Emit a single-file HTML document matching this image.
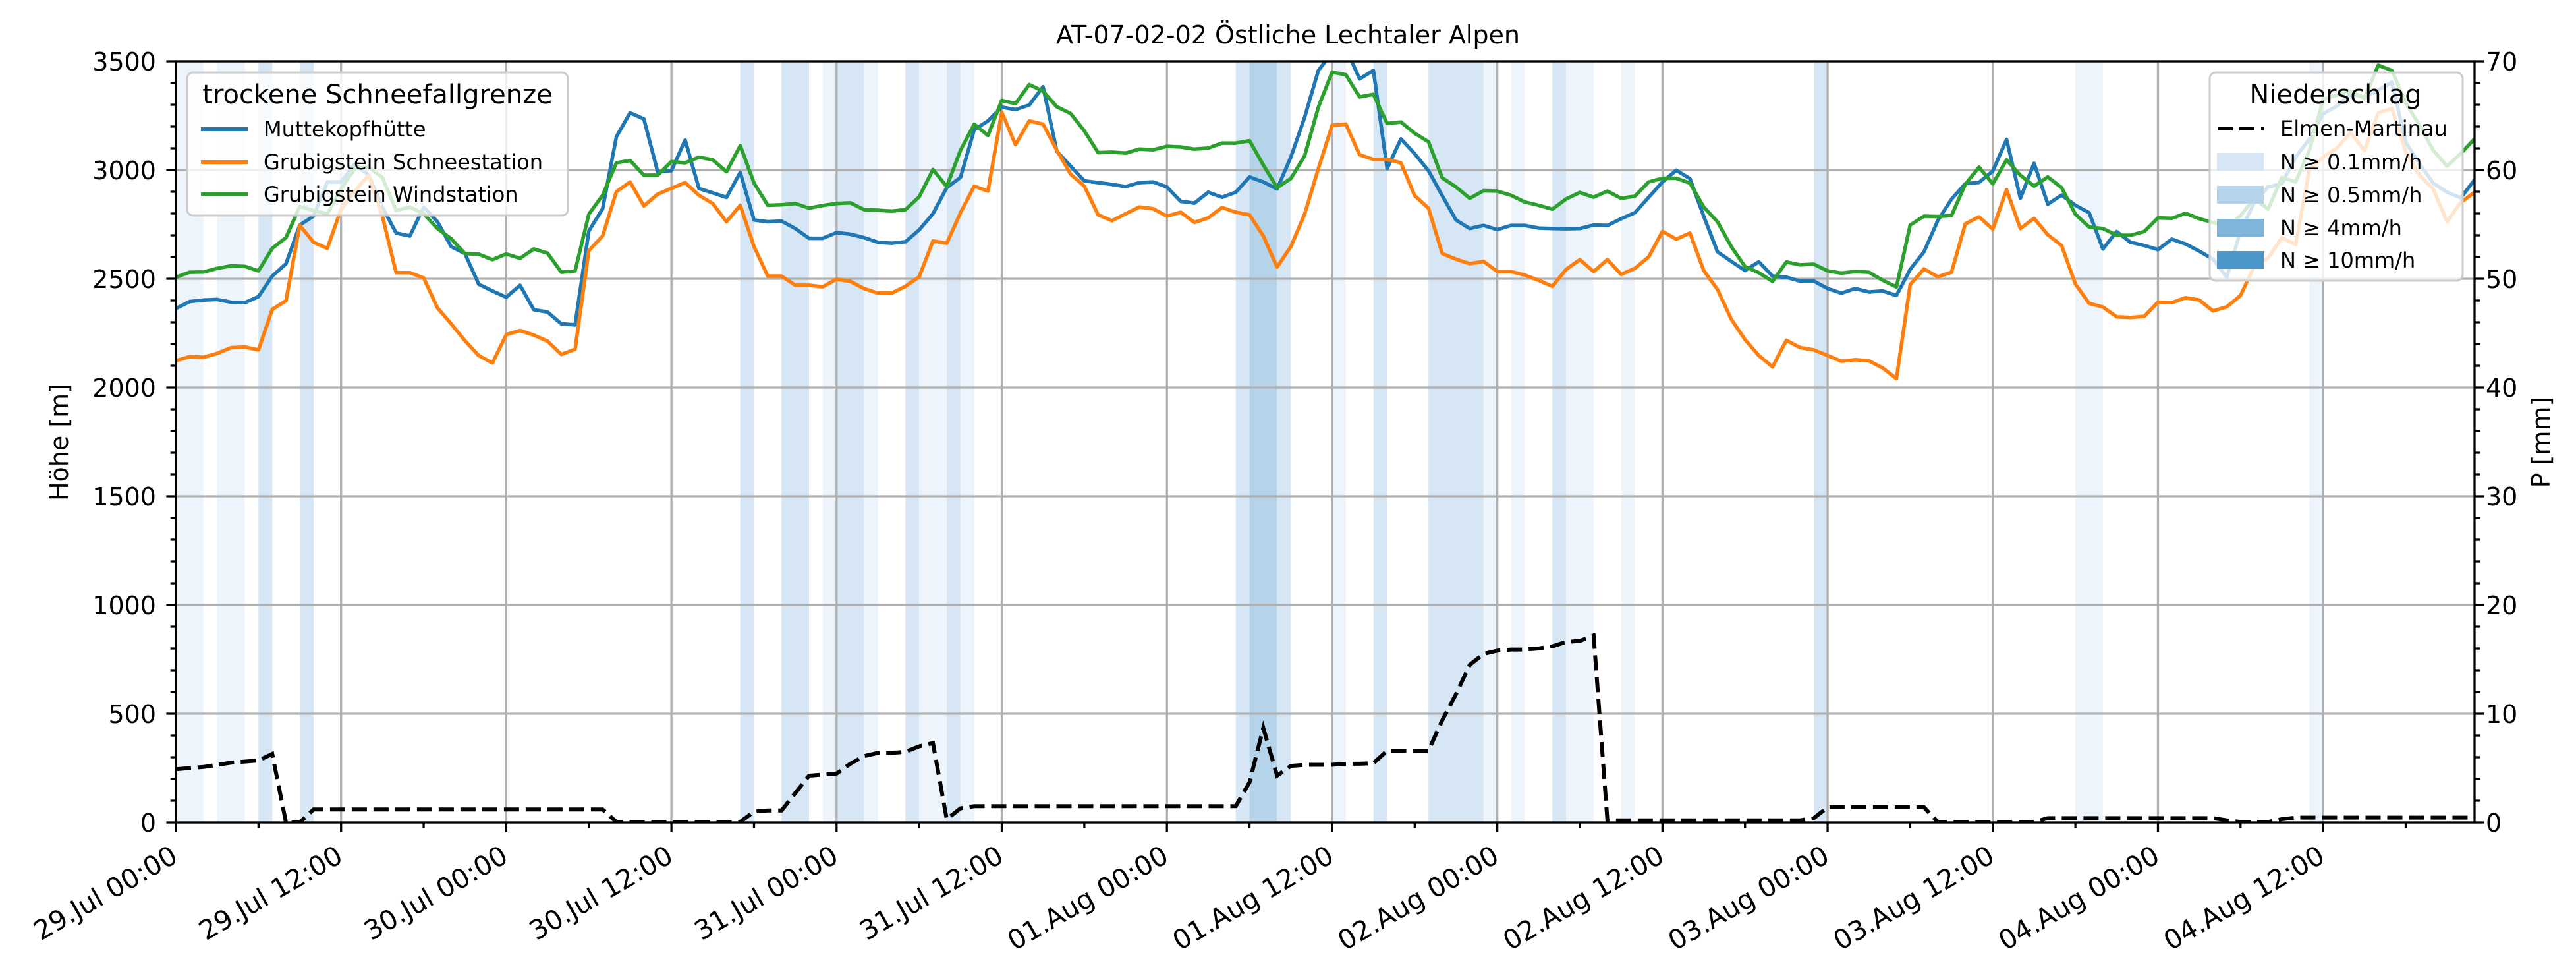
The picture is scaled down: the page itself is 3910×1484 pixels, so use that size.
<!DOCTYPE html>
<html><head><meta charset="utf-8">
<style>
html,body{margin:0;padding:0;background:#fff;}
svg{display:block;font-family:"DejaVu Sans","Liberation Sans",sans-serif;}
</style></head>
<body>
<svg id="chart" width="3910" height="1484" viewBox="0 0 3910 1484" xmlns="http://www.w3.org/2000/svg">
<rect x="0" y="0" width="3910" height="1484" fill="#fff"/>
<g id="bands"></g>
<g id="grid"></g>
<g id="series"></g>
<g id="axes"></g>
<text x="1955" y="66" font-size="38" text-anchor="middle">AT-07-02-02 Östliche Lechtaler Alpen</text>
<text x="0" y="0" font-size="38" text-anchor="middle" transform="translate(103,671) rotate(-90)">Höhe [m]</text>
<text x="0" y="0" font-size="38" text-anchor="middle" transform="translate(3870,671) rotate(-90)">P [mm]</text>

<g>
<rect x="284" y="110" width="578" height="217" rx="9" fill="#fff" fill-opacity="0.8" stroke="#cccccc" stroke-width="3"/>
<text x="573" y="157" font-size="40" text-anchor="middle">trockene Schneefallgrenze</text>
<g><line x1="305" y1="196" x2="376" y2="196" stroke="#1f77b4" stroke-width="6"/><text x="400" y="207" font-size="32">Muttekopfhütte</text></g>
<g><line x1="305" y1="246" x2="376" y2="246" stroke="#ff7f0e" stroke-width="6"/><text x="400" y="257" font-size="32">Grubigstein Schneestation</text></g>
<g><line x1="305" y1="295" x2="376" y2="295" stroke="#2ca02c" stroke-width="6"/><text x="400" y="306" font-size="32">Grubigstein Windstation</text></g>
</g>

<g>
<rect x="3354" y="110" width="384" height="316" rx="9" fill="#fff" fill-opacity="0.8" stroke="#cccccc" stroke-width="3"/>
<text x="3545" y="157" font-size="40" text-anchor="middle">Niederschlag</text>
<g><line x1="3366" y1="195" x2="3436" y2="195" stroke="#000" stroke-width="6" stroke-dasharray="23,10"/><text x="3461" y="206" font-size="32">Elmen-Martinau</text></g>
<g><rect x="3365" y="232" width="71" height="27" fill="#d6e6f4"/><text x="3461" y="257" font-size="32">N ≥ 0.1mm/h</text></g>
<g><rect x="3365" y="282" width="71" height="27" fill="#b5d4e9"/><text x="3461" y="307" font-size="32">N ≥ 0.5mm/h</text></g>
<g><rect x="3365" y="332" width="71" height="27" fill="#7fb5d8"/><text x="3461" y="357" font-size="32">N ≥ 4mm/h</text></g>
<g><rect x="3365" y="381" width="71" height="27" fill="#4a96c9"/><text x="3461" y="406" font-size="32">N ≥ 10mm/h</text></g>
</g>
</svg>
<script>
// ---- data (hourly, starting 29.Jul 00:00) ----
const xTickLabels = ["29.Jul 00:00","29.Jul 12:00","30.Jul 00:00","30.Jul 12:00","31.Jul 00:00","31.Jul 12:00","01.Aug 00:00","01.Aug 12:00","02.Aug 00:00","02.Aug 12:00","03.Aug 00:00","03.Aug 12:00","04.Aug 00:00","04.Aug 12:00"];
const yTicks = [0,500,1000,1500,2000,2500,3000,3500];
const y2Ticks = [0,10,20,30,40,50,60,70];
const muttekopf = [2363,2395,2402,2405,2392,2390,2418,2512,2569,2747,2788,2945,2945,3028,2976,2830,2710,2697,2830,2762,2648,2616,2475,2444,2415,2470,2358,2347,2293,2288,2720,2822,3153,3263,3235,
2992,2997,3138,2915,2895,2874,2989,2770,2762,2765,2731,2686,2686,2712,2705,2689,2668,2663,2670,2725,2799,2919,2966,3185,3226,3289,3278,3299,3383,3086,3018,2950,2942,2934,
2924,2942,2945,2922,2856,2848,2898,2875,2898,2968,2945,2913,3059,3242,3458,3540,3560,3419,3458,3007,3143,3075,2997,2882,2770,2731,2745,2726,2745,2745,2733,2731,2730,
2731,2747,2745,2776,2804,2875,2945,2999,2960,2788,2624,2580,2538,2578,2512,2507,2489,2489,2455,2434,2455,2439,2444,2423,2543,2624,2767,2866,2937,2943,2995,3141,2870,
3031,2843,2885,2838,2804,2637,2717,2668,2653,2634,2682,2660,2627,2590,2507,2720,2850,2922,2937,3059,3143,3259,3294,3349,3336,3367,3404,3128,3029,2940,2898,2872,2955];
const schneestation = [2123,2142,2139,2157,2183,2186,2173,2359,2399,2745,2668,2640,2820,2903,2976,2788,2528,2528,2504,2366,2293,2215,2147,2113,2243,2262,2241,2213,2152,2176,2630,2697,2901,2945,2835,
2889,2916,2942,2884,2846,2762,2838,2648,2512,2512,2470,2470,2463,2498,2488,2455,2434,2434,2465,2509,2674,2663,2804,2926,2903,3266,3117,3226,3211,3091,2981,2926,2794,2767,
2799,2830,2822,2788,2806,2759,2780,2828,2806,2794,2697,2554,2648,2797,3007,3205,3211,3070,3049,3049,3033,2882,2825,2616,2590,2569,2580,2533,2533,2517,2493,2465,2543,
2588,2533,2588,2520,2548,2601,2718,2682,2710,2538,2451,2314,2220,2147,2095,2217,2184,2173,2147,2121,2128,2123,2090,2041,2473,2545,2509,2530,2752,2785,2728,2910,2731,
2778,2702,2653,2476,2387,2370,2325,2322,2327,2392,2390,2413,2402,2352,2371,2423,2559,2595,2689,2658,3002,3059,3101,3172,3089,3263,3284,3086,2976,2913,2762,2851,2898];
const windstation = [2507,2530,2531,2548,2559,2557,2536,2640,2689,2832,2814,2799,2913,3007,3013,2966,2814,2830,2799,2731,2684,2616,2613,2588,2614,2594,2637,2618,2530,2536,2797,2884,3033,3044,2976,
2976,3039,3033,3059,3047,2992,3112,2940,2838,2840,2846,2825,2837,2846,2849,2818,2815,2811,2818,2877,3002,2924,3091,3211,3159,3320,3305,3393,3362,3291,3260,3180,3080,3082,
3078,3096,3093,3109,3106,3096,3101,3124,3124,3135,3023,2919,2961,3065,3289,3450,3438,3336,3348,3214,3221,3169,3130,2964,2922,2870,2905,2903,2884,2853,2838,2820,2867,
2897,2875,2903,2870,2880,2945,2962,2962,2940,2830,2762,2648,2556,2528,2488,2577,2564,2567,2536,2526,2533,2530,2493,2462,2747,2788,2786,2791,2934,3013,2936,3047,2976,
2926,2968,2919,2797,2738,2731,2700,2700,2717,2780,2778,2801,2776,2759,2740,2790,2870,2820,2966,2945,3090,3325,3345,3362,3330,3482,3458,3310,3206,3091,3018,3076,3143];
const precipElmen = [4.9,5.0,5.1,5.3,5.5,5.6,5.7,6.3,0,0,
1.2,1.2,1.2,1.2,1.2,1.2,1.2,1.2,1.2,1.2,1.2,1.2,1.2,1.2,1.2,1.2,1.2,1.2,1.2,1.2,1.2,1.2,
0.05,0.05,0.05,0.05,0.05,0.05,0.05,0.05,0.05,0.05,
1.0,1.1,1.1,2.7,4.3,4.4,4.5,5.4,6.1,6.4,6.4,6.5,7.0,7.3,0.3,1.3,
1.5,1.5,1.5,1.5,1.5,1.5,1.5,1.5,1.5,1.5,1.5,1.5,1.5,1.5,1.5,1.5,1.5,1.5,1.5,1.5,
3.7,8.7,4.3,5.2,5.3,5.3,5.3,5.4,5.4,5.45,
6.6,6.6,6.6,6.6,9.4,11.8,14.5,15.5,15.8,15.9,15.9,16.0,16.2,16.6,16.7,17.2,
0.2,0.2,0.2,0.2,0.2,0.2,0.2,0.2,0.2,0.2,0.2,0.2,0.2,0.2,0.2,0.4,
1.4,1.4,1.4,1.4,1.4,1.4,1.4,1.4,
0.05,0.05,0.05,0.05,0.05,0.05,0.05,0.05,
0.4,0.4,0.4,0.4,0.4,0.4,0.4,0.4,0.4,0.4,0.4,0.4,0.4,
0.2,0.05,0.05,0.05,0.3,
0.45,0.45,0.45,0.45,0.45,0.45,0.45,0.45,0.45,0.45,0.45,0.45,0.45,0.45];
// precipitation intensity bands: start hour, end hour, class (0: N>0, 1: N>=0.1, 2: N>=0.5)
const bandStart = [0,3,6,9,41,44,47,48,50,53,54,56,57,77,78,80,84,87,91,95,97,100,101,105,119,138,155];
const bandEnd   = [2,5,7,10,42,46,48,50,51,54,56,57,58,78,80,81,85,88,95,96,98,101,103,106,120,140,156];
const bandClass = [0,0,1,1,1,1,0,1,0,1,0,1,0,1,2,1,0,1,1,0,0,1,0,0,1,0,0];

// ---- layout ----
const L=267, R=3756, T=93, B=1248, HMAX=167;
const NS="http://www.w3.org/2000/svg";
const xS = h => L + (R-L)*h/HMAX;
const yS = v => B - (B-T)*v/3500;
const y2S = v => B - (B-T)*v/70;
function mk(tag, attrs, parent){const e=document.createElementNS(NS,tag);for(const k in attrs)e.setAttribute(k,attrs[k]);parent.appendChild(e);return e;}
const gB=document.getElementById('bands'), gG=document.getElementById('grid'), gS=document.getElementById('series'), gA=document.getElementById('axes');

const bandColors=["#eef4fb","#d6e6f4","#b5d4e9"];
for(let i=0;i<bandStart.length;i++){
  const r=mk('rect',{x:xS(bandStart[i]),y:T,width:xS(bandEnd[i])-xS(bandStart[i]),height:B-T,fill:bandColors[bandClass[i]]},gB);
  
  
}
// grid
for(let i=0;i<xTickLabels.length;i++){
  const x=xS(i*12);
  const l=mk('line',{x1:x,y1:T,x2:x,y2:B,stroke:"#b0b0b0","stroke-width":3.3},gG);
  
  
}
yTicks.forEach(v=>{
  const l=mk('line',{x1:L,y1:yS(v),x2:R,y2:yS(v),stroke:"#b0b0b0","stroke-width":3.3},gG);
  
  
});
// series
function pts(arr,sc){return arr.map((v,i)=>xS(i).toFixed(1)+","+sc(v).toFixed(1)).join(" ");}
const clip=mk('clipPath',{id:'plotclip'},document.getElementById('chart'));
mk('rect',{x:L,y:T,width:R-L,height:B-T},clip);
const series=[[muttekopf,"#1f77b4","line-muttekopf"],[schneestation,"#ff7f0e","line-schneestation"],[windstation,"#2ca02c","line-windstation"]];
series.forEach(s=>{
  const p=mk('polyline',{points:pts(s[0],yS),fill:"none",stroke:s[1],"stroke-width":5.5,"stroke-linejoin":"round","clip-path":"url(#plotclip)"},gS);
  
  
});
const pp=mk('polyline',{points:pts(precipElmen,y2S),fill:"none",stroke:"#000","stroke-width":6,"stroke-dasharray":"23,10","clip-path":"url(#plotclip)"},gS);



// axes spines
mk('rect',{x:L,y:T,width:R-L,height:B-T,fill:"none",stroke:"#000","stroke-width":3.3},gA);
// x ticks
for(let h=0;h<=HMAX;h+=6){
  const major=h%12===0;
  mk('line',{x1:xS(h),y1:B,x2:xS(h),y2:B+(major?14.6:8.3),stroke:"#000","stroke-width":3.3},gA);
}
let xFont=38;
const xLabelEls=[];
xTickLabels.forEach((lab,i)=>{
  const x=xS(i*12)-10, y=1280;
  const t=mk('text',{x:0,y:0,"font-size":38,"text-anchor":"end","dominant-baseline":"hanging",transform:`translate(${x},${y}) rotate(-30)`},gA);
  t.textContent=lab;
  
  
  xLabelEls.push(t);
});
try{const len=xLabelEls[0].getComputedTextLength(); if(len>10) xFont=38*243/len;}catch(e){}
xLabelEls.forEach(t=>t.setAttribute('font-size',xFont.toFixed(2)));
// left y ticks
for(let v=0;v<=3500;v+=100){
  const major=v%500===0;
  mk('line',{x1:L,y1:yS(v),x2:L-(major?14.6:8.3),y2:yS(v),stroke:"#000","stroke-width":3.3},gA);
}
yTicks.forEach(v=>{
  const t=mk('text',{x:237,y:yS(v)+14,"font-size":38,"text-anchor":"end"},gA);
  t.textContent=v;
  
  
});
// right y ticks
for(let v=0;v<=70;v+=2){
  const major=v%10===0;
  mk('line',{x1:R,y1:y2S(v),x2:R+(major?14.6:8.3),y2:y2S(v),stroke:"#000","stroke-width":3.3},gA);
}
y2Ticks.forEach(v=>{
  const t=mk('text',{x:3773,y:y2S(v)+14,"font-size":38,"text-anchor":"start"},gA);
  t.textContent=v;
  
  
});
</script>
</body></html>
